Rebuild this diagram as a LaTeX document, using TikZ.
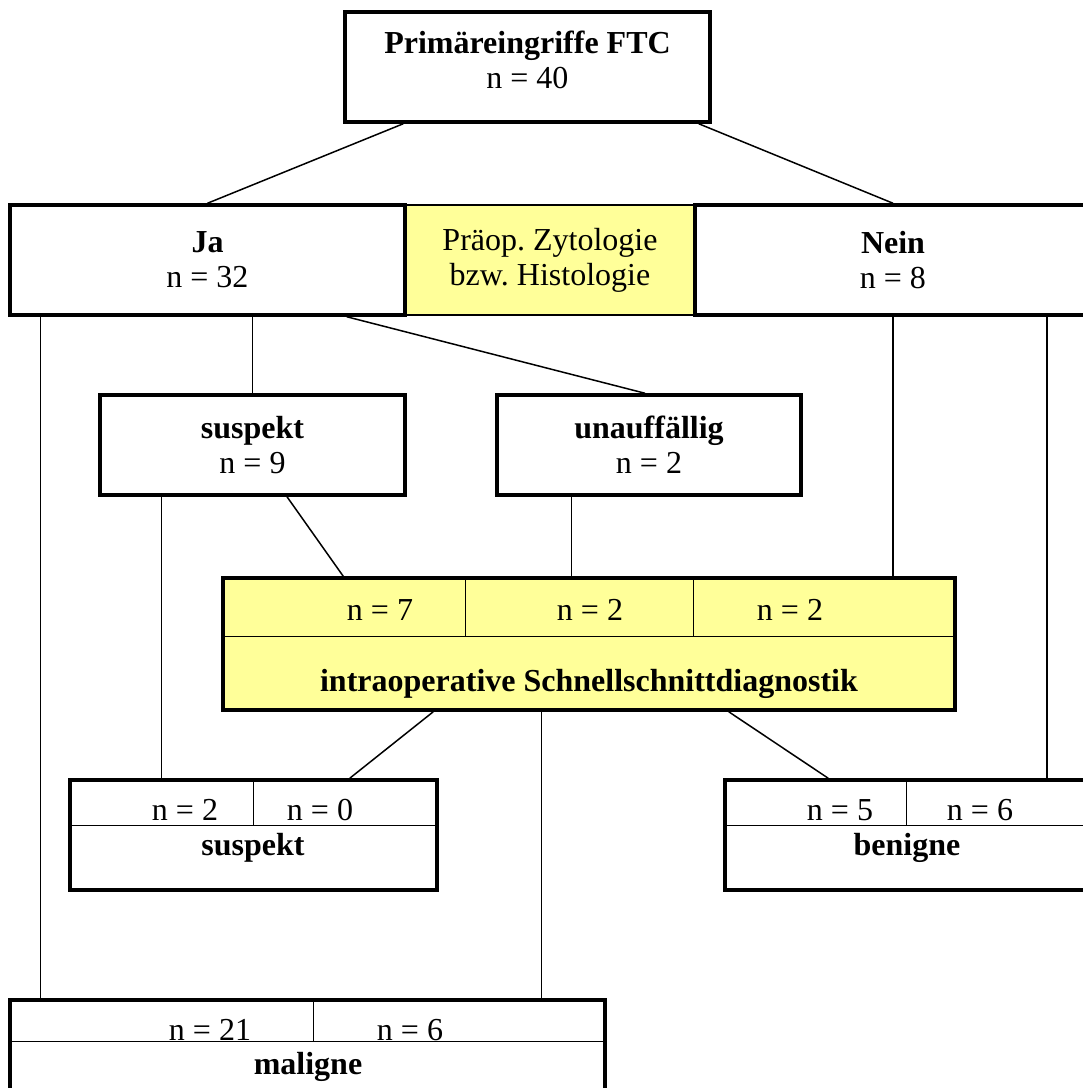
\documentclass[tikz,border=0pt]{standalone}
\usepackage{fontspec}
\setmainfont{Liberation Serif}
\usetikzlibrary{calc}
\definecolor{paleyellow}{HTML}{FFFF99}
\frenchspacing

\begin{document}
\begin{tikzpicture}[x=1pt,y=-1pt,
	every node/.style={font=\fontsize{32}{35}\selectfont},
	box/.style={draw,line width=3.5pt,inner sep=0pt,align=center},
	yelbox/.style={box,fill=paleyellow},
	divider/.style={line width=1.5pt},
	link/.style={line width=1.5pt}]
	
	\clip (0,0) rectangle (1083,1088);
	
	% boxes
	\node[box,minimum width=365pt,minimum height=110pt,text depth=14pt] (ftc) at (527.5,67) {\textbf{Primäreingriffe FTC}\\n = 40};
	\node[yelbox,line width=1.5pt,minimum width=290pt,minimum height=110pt] (praeop) at (550,260) {Präop. Zytologie\\bzw. Histologie};
	\node[box,minimum width=395pt,minimum height=110pt] (ja) at (207.5,260) {\textbf{Ja}\\n = 32};
	\node[box,minimum width=396pt,minimum height=110pt] (nein) at (893,260) {\textbf{Nein}\\n = 8};
	\node[box,minimum width=305pt,minimum height=100pt] (susp) at (252.5,445) {\textbf{suspekt}\\n = 9};
	\node[box,minimum width=304pt,minimum height=100pt] (unauf) at (649,445) {\textbf{unauffällig}\\n = 2};
	\node[yelbox,minimum width=732pt,minimum height=132pt] (iod) at (589,644) {};
	\node[box,minimum width=367pt,minimum height=110pt] (sus2) at (253.5,835) {};
	\node[box,minimum width=364pt,minimum height=110pt] (ben) at (907,835) {};
	\node[box,minimum width=595pt,minimum height=110pt] (mal) at (307.5,1055) {};
	
	% dividers
	\draw[divider] ($(iod.north west)+(0,60)$) -- ($(iod.north east)+(0,60)$);
	\draw[divider] ($(iod.north west)+(244,0)$) -- ($(iod.north west)+(244,60)$);
	\draw[divider] ($(iod.north west)+(472,0)$) -- ($(iod.north west)+(472,60)$);
	\draw[divider] ($(sus2.north west)+(0,47)$) -- ($(sus2.north east)+(0,47)$);
	\draw[divider] ($(sus2.north west)+(185,0)$) -- ($(sus2.north west)+(185,47)$);
	\draw[divider] ($(ben.north west)+(0,47)$) -- ($(ben.north east)+(0,47)$);
	\draw[divider] ($(ben.north west)+(183,0)$) -- ($(ben.north west)+(183,47)$);
	\draw[divider] ($(mal.north west)+(0,43)$) -- ($(mal.north east)+(0,43)$);
	\draw[divider] ($(mal.north west)+(305,0)$) -- ($(mal.north west)+(305,43)$);
	
	% texts in the split boxes
	\node (iodA) at (380,610) {n = 7};
	\node (iodB) at (590,610) {n = 2};
	\node (iodC) at (790,610) {n = 2};
	\node (iodT) at (589,684) {\textbf{intraoperative Schnellschnittdiagnostik}};
	\node (sus2A) at (185,810) {n = 2};
	\node (sus2B) at (320,810) {n = 0};
	\node (sus2T) at (253,848) {\textbf{suspekt}};
	\node (benA) at (840,810) {n = 5};
	\node (benB) at (980,810) {n = 6};
	\node (benT) at (907,848) {\textbf{benigne}};
	\node (malA) at (210,1030) {n = 21};
	\node (malB) at (410,1030) {n = 6};
	\node (malT) at (308,1067) {\textbf{maligne}};
	
	% links
	\draw[link] ($(ftc.south west)+(60,0)$) -- (ja.north);
	\draw[link] ($(ftc.south east)+(-13,0)$) -- (nein.north);
	\draw[link] ($(ja.south west)+(32,0)$) coordinate (jm) -- (jm |- mal.north);
	\draw[link] (susp.north |- ja.south) -- (susp.north);
	\draw[link] ($(ja.south east)+(-60,0)$) -- ($(unauf.north)+(-4,0)$);
	\draw[link] (nein.south) -- (nein.south |- iod.north);
	\draw[link] ($(ben.north east)+(-44,0)$) coordinate (nb) -- (nb |- nein.south);
	\draw[link] ($(susp.south west)+(63,0)$) coordinate (ss) -- (ss |- sus2.north);
	\draw[link] ($(susp.south)+(34.5,0)$) -- ($(iod.north west)+(122,0)$);
	\draw[link] ($(unauf.south west)+(76,0)$) coordinate (ui) -- (ui |- iod.north);
	\draw[link] ($(iod.south west)+(212,0)$) -- ($(sus2.north east)+(-89,0)$);
	\draw[link] ($(iod.south west)+(320,0)$) coordinate (im) -- (im |- mal.north);
	\draw[link] ($(iod.south east)+(-228,0)$) -- ($(ben.north west)+(105,0)$);
\end{tikzpicture}
\end{document}
